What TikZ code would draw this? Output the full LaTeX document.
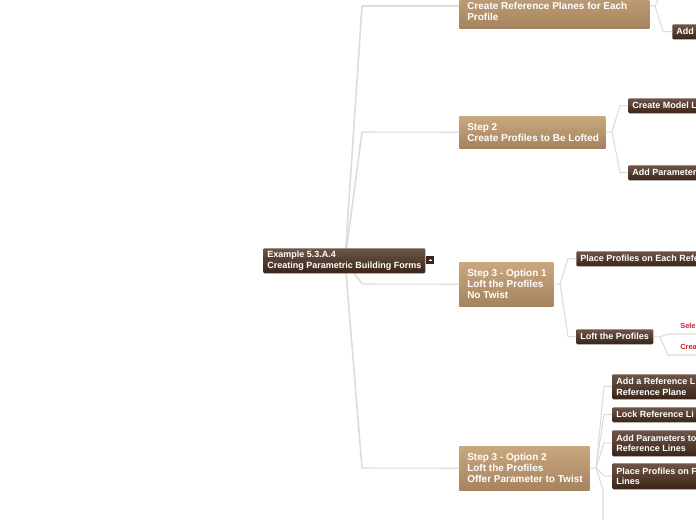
\documentclass[tikz,border=0pt]{standalone}
\usepackage{fontspec}
\setmainfont{Liberation Sans}
\definecolor{tanTop}{HTML}{C9A880}
\definecolor{tanBot}{HTML}{A4835E}
\definecolor{darkTop}{HTML}{6E5547}
\definecolor{darkBot}{HTML}{3A2519}
\definecolor{lineGray}{HTML}{DCDCDC}
\definecolor{redText}{HTML}{CC2233}
\tikzset{
  conn/.style={draw=lineGray, line width=0.8pt},
  rootconn/.style={draw=lineGray, line width=1.2pt},
  stepbox/.style={anchor=north west, inner sep=0pt, top color=tanTop, bottom color=tanBot, draw=none},
  steptext/.style={anchor=west, inner sep=0pt, font=\bfseries\fontsize{7.5}{8.25}\selectfont, text=white, align=left},
  topicbox/.style={anchor=north west, inner sep=0pt, top color=darkTop, bottom color=darkBot, draw=none, rounded corners=0.8pt},
  topictext/.style={anchor=west, inner sep=0pt, font=\bfseries\fontsize{6.75}{7.9}\selectfont, text=white, align=left},
  redtopic/.style={anchor=west, inner sep=0pt, font=\bfseries\fontsize{5.6}{6.5}\selectfont, text=redText},
}
\begin{document}
\begin{tikzpicture}[x=0.75pt,y=-0.75pt]
\useasboundingbox (0,0) rectangle (696,520);
\clip (0,0) rectangle (696,520);

% junction coordinates
\coordinate (rj1) at (362,6);
\coordinate (rj2) at (362,132);
\coordinate (rj3) at (362,284);
\coordinate (rj4) at (362,468);
\coordinate (s1j) at (655,6);
\coordinate (s1up) at (661,-6);
\coordinate (s1a) at (663,31.5);
\coordinate (s2j) at (612,132);
\coordinate (s2a) at (620,105.5);
\coordinate (s2b) at (620,172.5);
\coordinate (o1j) at (560,284);
\coordinate (o1a) at (568,258.5);
\coordinate (o1b) at (568,336.5);
\coordinate (lj) at (660,337);
\coordinate (la) at (668,334);
\coordinate (lb) at (668,355);
\coordinate (laEnd) at (700,334);
\coordinate (lbEnd) at (700,355);
\coordinate (o2j) at (596,468);
\coordinate (o2a) at (604,386.5);
\coordinate (o2b) at (604,414.5);
\coordinate (o2c) at (604,443);
\coordinate (o2d) at (604,476);
\coordinate (o2e) at (603,490);
\coordinate (o2down) at (603,530);
\coordinate (rc) at (345,260);

% root connectors (behind root)
\draw[rootconn] (rc) -- (rj1);
\draw[rootconn] (rc) -- (rj2);
\draw[rootconn] (rc) -- (rj3);
\draw[rootconn] (rc) -- (rj4);

% Step nodes
\node[stepbox, minimum width=142.5pt, minimum height=33pt] (s1) at (459,-16) {};
\node[steptext] (s1t) at (467,11.5) {Create Reference Planes for Each\\Profile};
\node[stepbox, minimum width=109.5pt, minimum height=24pt] (s2) at (459,116) {};
\node[steptext] (s2t) at ([xshift=6pt]s2.west) {Step 2\\Create Profiles to Be Lofted};
\node[stepbox, minimum width=70.5pt, minimum height=33pt] (o1) at (459,262) {};
\node[steptext] (o1t) at ([xshift=6pt]o1.west) {Step 3 - Option 1\\Loft the Profiles\\No Twist};
\node[stepbox, minimum width=97.5pt, minimum height=33pt] (o2) at (459,446) {};
\node[steptext] (o2t) at ([xshift=6pt]o2.west) {Step 3 - Option 2\\Loft the Profiles\\Offer Parameter to Twist};

\draw[conn] (rj1) -- (s1.west |- rj1);
\draw[conn] (rj2) -- (s2.west);
\draw[conn] (rj3) -- (o1.west);
\draw[conn] (rj4) -- (o2.west);

% root node
\node[topicbox, minimum width=121.5pt, minimum height=18.75pt] (root) at (263,248) {};
\node[topictext] (roott) at ([xshift=3pt]root.west) {Example 5.3.A.4\\Creating Parametric Building Forms};
\node[anchor=north west, minimum width=6pt, minimum height=6pt, inner sep=0pt, fill=darkBot, draw=none] (coll) at (426,256) {};
\draw[white, line width=0.5pt] ([xshift=-1.2pt]coll.center) -- ([xshift=1.2pt]coll.center);
\draw[white, line width=0.5pt] ([xshift=0.3pt,yshift=1.2pt]coll.center) -- ([xshift=0.3pt,yshift=-0.6pt]coll.center);

% Step 1 children
\node[topicbox, minimum width=40pt, minimum height=11.25pt] (add1) at (672,24) {};
\node[topictext] (add1t) at ([xshift=3pt]add1.west) {Add};
\draw[conn] (s1.east |- s1j) -- (s1j) -- (s1up);
\draw[conn] (s1j) -- (s1a) -- (add1.west);

% Step 2 children
\node[topicbox, minimum width=80pt, minimum height=11.25pt] (cml) at (628,98) {};
\node[topictext] (cmlt) at ([xshift=3pt]cml.west) {Create Model L};
\node[topicbox, minimum width=80pt, minimum height=11.25pt] (apar) at (628,165) {};
\node[topictext] (apart) at ([xshift=3pt]apar.west) {Add Parameter};
\draw[conn] (s2.east) -- (s2j) -- (s2a) -- (cml.west);
\draw[conn] (s2j) -- (s2b) -- (apar.west);

% Option 1 children
\node[topicbox, minimum width=110pt, minimum height=11.25pt] (ppe) at (576,251) {};
\node[topictext] (ppet) at ([xshift=3pt]ppe.west) {Place Profiles on Each Refe};
\node[topicbox, minimum width=57.75pt, minimum height=11.25pt] (loft) at (576,329) {};
\node[topictext] (loftt) at ([xshift=3pt]loft.west) {Loft the Profiles};
\draw[conn] (o1.east) -- (o1j) -- (o1a) -- (ppe.west);
\draw[conn] (o1j) -- (o1b) -- (loft.west);

% Loft children
\node[redtopic] (sel) at (680,325.5) {Sele};
\node[redtopic] (crea) at (680,347) {Crea};
\draw[conn] (loft.east) -- (lj) -- (la) -- (laEnd);
\draw[conn] (lj) -- (lb) -- (lbEnd);

% Option 2 children
\node[topicbox, minimum width=80pt, minimum height=18.75pt] (c1) at (612,374) {};
\node[topictext] (c1t) at ([xshift=3pt]c1.west) {Add a Reference L\\Reference Plane};
\node[topicbox, minimum width=80pt, minimum height=11.25pt] (c2) at (612,407) {};
\node[topictext] (c2t) at ([xshift=3pt]c2.west) {Lock Reference Li};
\node[topicbox, minimum width=80pt, minimum height=19.5pt] (c3) at (612,430) {};
\node[topictext] (c3t) at ([xshift=3pt]c3.west) {Add Parameters to\\Reference Lines};
\node[topicbox, minimum width=80pt, minimum height=19.5pt] (c4) at (612,463) {};
\node[topictext] (c4t) at ([xshift=3pt]c4.west) {Place Profiles on F\\Lines};
\draw[conn] (o2.east) -- (o2j) -- (o2a) -- (c1.west);
\draw[conn] (o2j) -- (o2b) -- (c2.west);
\draw[conn] (o2j) -- (o2c) -- (c3.west);
\draw[conn] (o2j) -- (o2d) -- (c4.west);
\draw[conn] (o2j) -- (o2e) -- (o2down);
\end{tikzpicture}
\end{document}
